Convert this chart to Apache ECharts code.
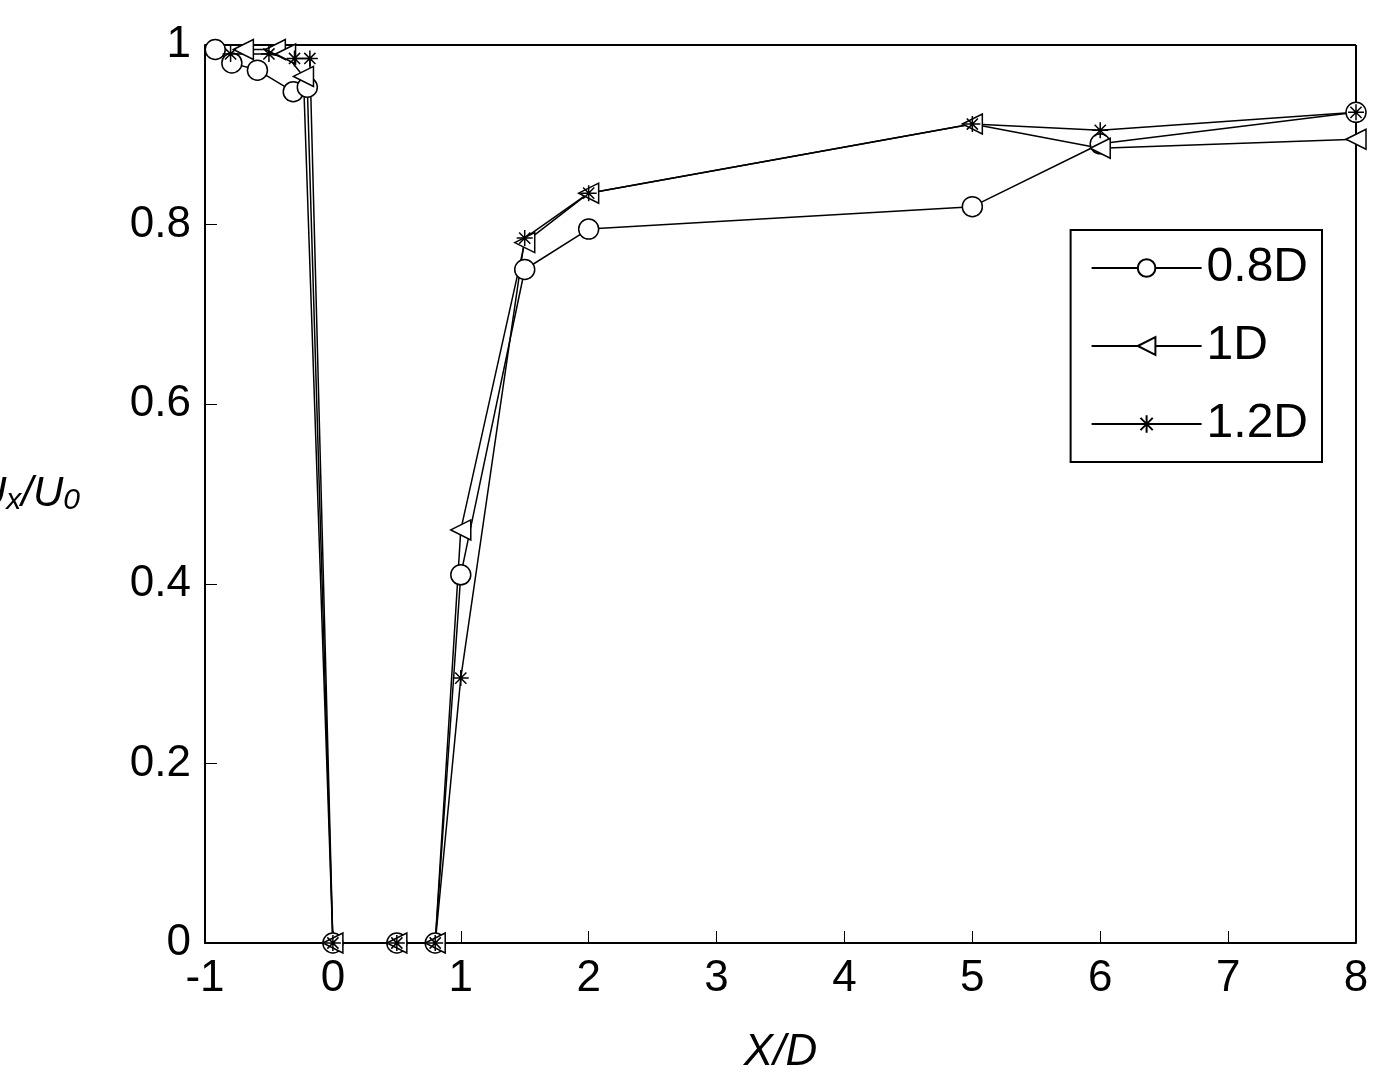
<!DOCTYPE html><html><head><meta charset="utf-8"><script src="https://cdn.jsdelivr.net/npm/echarts@6/dist/echarts.min.js"></script>
<style>body{margin:0;background:#fff}#c{width:1393px;height:1090px}</style></head><body><div id="c"></div><script>
const s08 = [[-0.92,0.995],[-0.79,0.98],[-0.59,0.972],[-0.31,0.948],[-0.2,0.953],[0,0],[0.5,0],[0.8,0],[1,0.41],[1.5,0.75],[2,0.795],[5,0.82],[6,0.89],[8,0.925]];
const s10 = [[-0.7,0.995],[-0.45,0.995],[-0.37,0.99],[-0.23,0.965],[0,0],[0.5,0],[0.8,0],[1,0.46],[1.5,0.78],[2,0.835],[5,0.912],[6,0.885],[8,0.895]];
const s12 = [[-0.8,0.99],[-0.5,0.99],[-0.3,0.985],[-0.18,0.985],[0,0],[0.5,0],[0.8,0],[1,0.295],[1.5,0.785],[2,0.835],[5,0.912],[6,0.905],[8,0.925]];
const names = ['0.8D','1D','1.2D'];
const star = 'path://M0,-10L0,10M-10,0L10,0M-7,-7L7,7M-7,7L7,-7';
const base = {type:'line',symbolSize:20,lineStyle:{color:'#000',width:1.5},itemStyle:{color:'#fff',borderColor:'#000',borderWidth:1.5},emphasis:{disabled:true}};
const chart = echarts.init(document.getElementById('c'));
chart.setOption({
 animation:false,
 grid:{left:205,right:37,top:45,bottom:147,containLabel:false,outerBoundsMode:'none'},
 xAxis:{type:'value',min:-1,max:8,interval:1,
  axisLine:{onZero:false,lineStyle:{color:'#000',width:2}},axisTick:{inside:true,length:12,lineStyle:{color:'#000'}},
  axisLabel:{color:'#000',fontSize:44,fontFamily:'Liberation Sans',margin:14},splitLine:{show:false},
  name:'X/D',nameLocation:'middle',nameGap:88,nameTextStyle:{color:'#000',fontSize:44,fontStyle:'italic',fontFamily:'Liberation Sans'}},
 yAxis:{type:'value',min:0,max:1,interval:0.2,
  axisLine:{onZero:false,lineStyle:{color:'#000',width:2}},axisTick:{inside:true,length:12,lineStyle:{color:'#000'}},
  axisLabel:{color:'#000',fontSize:44,fontFamily:'Liberation Sans',margin:14,formatter:v=>v===0||v===1?String(v):v.toFixed(1)},splitLine:{show:false},
  name:'{a|U}{b|x}{a|/U}{b|0}',nameLocation:'middle',nameGap:125,nameRotate:0,
  nameTextStyle:{rich:{a:{fontSize:42,fontStyle:'italic',color:'#000',fontFamily:'Liberation Sans'},b:{fontSize:30,fontStyle:'italic',color:'#000',fontFamily:'Liberation Sans',verticalAlign:'bottom',padding:[14,0,0,0]}}}},
 legend:{right:71,top:230,orient:'vertical',data:names,itemWidth:110,itemHeight:22,itemGap:30,padding:[14,14,14,20],
  borderColor:'#000',borderWidth:2,backgroundColor:'#fff',textStyle:{fontSize:48,color:'#000',fontFamily:'Liberation Sans'}},
 series:[
  Object.assign({},base,{name:names[0],data:s08,symbol:'circle'}),
  Object.assign({},base,{name:names[1],data:s10,symbol:'triangle',symbolRotate:90}),
  Object.assign({},base,{name:names[2],data:s12,symbol:star,symbolSize:16,itemStyle:{color:'#000',borderColor:'#000',borderWidth:1.5}})
 ],
 graphic:[{type:'line',shape:{x1:205,y1:45,x2:1356,y2:45},style:{stroke:'#000',lineWidth:2}},{type:'line',shape:{x1:1356,y1:45,x2:1356,y2:943},style:{stroke:'#000',lineWidth:2}}]
});
</script></body></html>
